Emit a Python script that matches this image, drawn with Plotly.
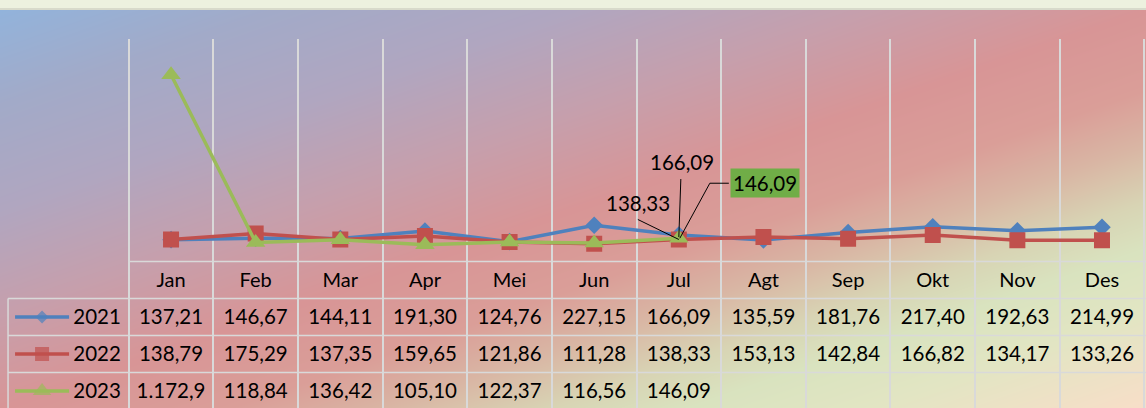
import plotly.graph_objects as go

# data
months = ["Jan", "Feb", "Mar", "Apr", "Mei", "Jun", "Jul", "Agt", "Sep", "Okt", "Nov", "Des"]
years = ["2021", "2022", "2023"]
v2021 = [137.21, 146.67, 144.11, 191.30, 124.76, 227.15, 166.09, 135.59, 181.76, 217.40, 192.63, 214.99]
v2022 = [138.79, 175.29, 137.35, 159.65, 121.86, 111.28, 138.33, 153.13, 142.84, 166.82, 134.17, 133.26]
v2023 = [1172.90, 118.84, 136.42, 105.10, 122.37, 116.56, 146.09, None, None, None, None, None]
label_month = "Jul"

W, H = 1146, 408
FONT = "Lato"
GRID = "#D9D9D9"

series = [
    (years[0], v2021, "#4F81BD", "diamond", 13.5, 10),
    (years[1], v2022, "#C0504D", "square", 16, 14),
    (years[2], v2023, "#9BBB59", "triangle-up", 17, 16),
]


def fmt(v):
    # Indonesian number format, cut to fit the table cell
    if v is None:
        return ""
    s = f"{v:,.2f}".replace(",", "X").replace(".", ",").replace("X", ".")
    return s[:7]


# axis geometry (pixels)
x_rng = [-2.021, 11.52]
plot_top = 38.5
zero_px = 261.5
y_max = 1400
px_per_unit = (zero_px - plot_top) / y_max
y_min = -(H - zero_px) / px_per_unit
row0_px, row_h = 280, 37
tbl_rng = [(H - row0_px) / row_h, (plot_top - row0_px) / row_h]
dom_top = (H - plot_top) / H
tbl_left = -1.926
txt_dy = 0.055  # text sits slightly low in the cells

fig = go.Figure()

# background gradient (Excel style 45 degree fill)
grad = [
    [0.00, "#92B3DB"], [0.12, "#A2AAC8"], [0.25, "#B0A6C0"], [0.38, "#C69FAC"],
    [0.50, "#D89596"], [0.60, "#DA9E98"], [0.67, "#D9B6A4"], [0.74, "#D8D4B4"],
    [0.80, "#D9E3BF"], [0.88, "#E2E5C3"], [1.00, "#F8DEC8"],
]
fig.add_trace(go.Heatmap(
    z=[[0.5, 1.0], [0.0, 0.5]], x=[0, 1], y=[0, 1],
    zmin=0, zmax=1, zsmooth="best", colorscale=grad,
    showscale=False, hoverinfo="skip", xaxis="x", yaxis="y",
))

# lines
for name, vals, col, sym, msize, _ in series:
    fig.add_trace(go.Scatter(
        x=months, y=vals, name=name, mode="lines+markers",
        line=dict(color=col, width=3.5),
        marker=dict(symbol=sym, size=msize, color=col),
        xaxis="x2", yaxis="y2", showlegend=False,
    ))

# data table: month row + value rows
fig.add_trace(go.Scatter(
    x=months, y=[txt_dy] * 12, mode="text", text=months,
    textfont=dict(family=FONT, size=20, color="black"),
    xaxis="x2", yaxis="y3", showlegend=False, hoverinfo="skip",
))
for r, (name, vals, col, sym, _, ksize) in enumerate(series, start=1):
    fig.add_trace(go.Scatter(
        x=months, y=[r + txt_dy] * 12, mode="text", text=[fmt(v) for v in vals],
        textfont=dict(family=FONT, size=20.5, color="black"),
        xaxis="x2", yaxis="y3", showlegend=False, hoverinfo="skip",
    ))
    # legend key inside the table
    fig.add_trace(go.Scatter(
        x=[-1.843, -1.524, -1.205], y=[r] * 3, mode="lines+markers",
        line=dict(color=col, width=3.5),
        marker=dict(symbol=sym, size=[0, ksize, 0], color=col, line=dict(width=0)),
        xaxis="x4", yaxis="y3", showlegend=False, hoverinfo="skip",
    ))
fig.add_trace(go.Scatter(
    x=[-0.874] * 3, y=[1 + txt_dy, 2 + txt_dy, 3 + txt_dy], mode="text", text=years,
    textfont=dict(family=FONT, size=20.5, color="black"),
    xaxis="x4", yaxis="y3", showlegend=False, hoverinfo="skip",
))

# table borders
shapes = [dict(type="line", xref="x4", yref="y3", x0=-0.5, x1=x_rng[1], y0=-0.5, y1=-0.5,
               line=dict(color=GRID, width=1.5))]
for yb in [0.5, 1.5, 2.5]:
    shapes.append(dict(type="line", xref="x4", yref="y3", x0=tbl_left, x1=x_rng[1], y0=yb, y1=yb,
                       line=dict(color=GRID, width=1.5)))
shapes.append(dict(type="line", xref="x4", yref="y3", x0=tbl_left, x1=tbl_left, y0=0.5, y1=tbl_rng[0],
                   line=dict(color=GRID, width=1.5)))
# top strip line
shapes.append(dict(type="line", xref="paper", yref="paper", x0=0, x1=1, y0=(H - 9) / H, y1=(H - 9) / H,
                   line=dict(color="#D8DACB", width=2)))

# data labels for Jul (leader lines anchored on the points)
idx = months.index(label_month)
labels = [
    (v2021[idx], 3, 73, None, "M2,56 L0,-2"),
    (v2022[idx], -41, 36.5, None, "M-41,20 L0,0"),
    (v2023[idx], 86, 55, "#70AD47", "M50,55 L31,55 L1,0"),
]
annotations = []
for val, dx, dy, bg, path in labels:
    annotations.append(dict(
        x=label_month, y=val, xref="x2", yref="y2", xshift=dx, yshift=dy,
        text=fmt(val), showarrow=False,
        font=dict(family=FONT, size=20.5, color="black"),
        bgcolor=bg if bg else "rgba(0,0,0,0)", borderpad=2,
    ))
    shapes.append(dict(
        type="path", xref="x2", yref="y2", xsizemode="pixel", ysizemode="pixel",
        xanchor=label_month, yanchor=val, path=path,
        line=dict(color="black", width=1),
    ))

fig.update_layout(
    width=W, height=H,
    margin=dict(l=0, r=0, t=0, b=0),
    paper_bgcolor="#EDF1DF",
    plot_bgcolor="rgba(0,0,0,0)",
    showlegend=False,
    xaxis=dict(domain=[0, 1], range=[0, 1], visible=False, fixedrange=True),
    yaxis=dict(domain=[0, (H - 10) / H], range=[0, 1], visible=False, fixedrange=True),
    xaxis2=dict(
        domain=[0, 1], anchor="y2", type="category",
        categoryorder="array", categoryarray=months, range=x_rng,
        tickson="boundaries", showgrid=True, gridcolor=GRID, gridwidth=1.5,
        showticklabels=False, ticks="", zeroline=False, showline=False,
    ),
    yaxis2=dict(domain=[0, dom_top], anchor="x2", range=[y_min, y_max],
                showgrid=False, zeroline=False, showticklabels=False, ticks=""),
    yaxis3=dict(overlaying="y2", anchor="x2", range=tbl_rng, visible=False),
    xaxis4=dict(overlaying="x2", anchor="y3", range=x_rng, visible=False),
    shapes=shapes,
    annotations=annotations,
)

fig.write_html("out.html", config={"displayModeBar": False},
               post_script="document.body.style.margin='0';")
